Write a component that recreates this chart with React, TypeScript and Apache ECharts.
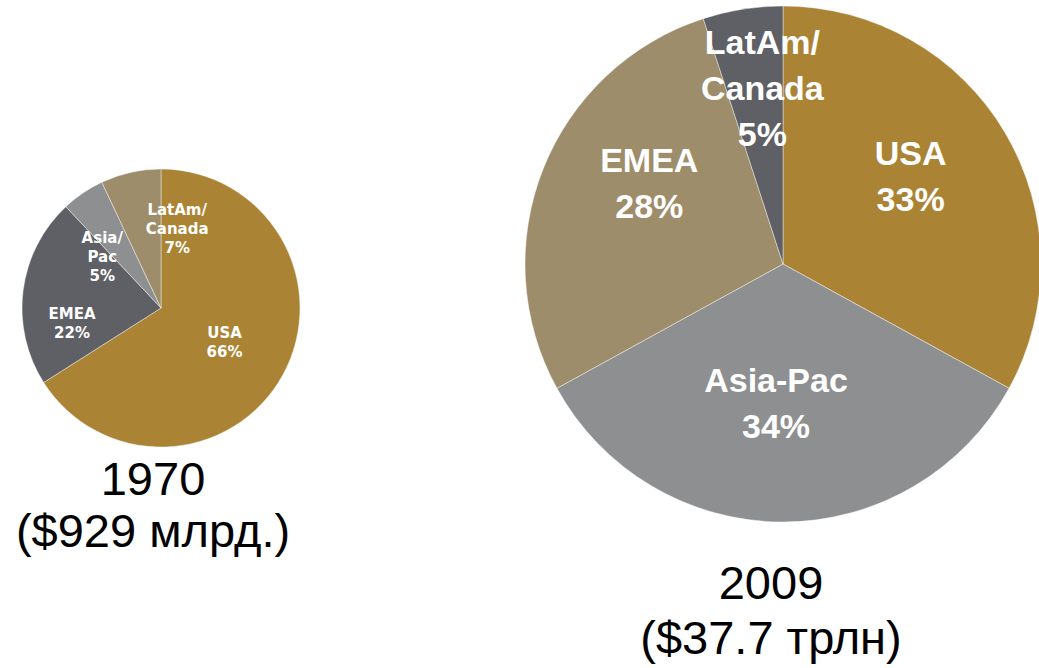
import React, { useEffect, useRef } from "react";
import * as echarts from "echarts";

// 1970 pie
const names1970 = ["USA", "EMEA", "Asia/\nPac", "LatAm/\nCanada"];
const values1970 = [66, 22, 5, 7];
const colors1970 = ["#AA8434", "#5F6065", "#8E8F91", "#9E8D6A"];
const title1970 = "1970\n($929 млрд.)";

// 2009 pie
const names2009 = ["USA", "Asia-Pac", "EMEA", "LatAm/\nCanada"];
const values2009 = [33, 34, 28, 5];
const colors2009 = ["#AA8434", "#8E8F91", "#9E8D6A", "#5F6065"];
const title2009 = "2009\n($37.7 трлн)";

// label nudges (layout only)
const nudge1970: [number, number][] = [[0, 0], [-17, 25], [-18, 9], [32, -8]];
const nudge2009: [number, number][] = [[14, -21], [-7, 7], [-11, -32], [0, -46]];

export default function App() {
  const ref = useRef<HTMLDivElement>(null);
  useEffect(() => {
    document.body.style.margin = "0";
    const chart = echarts.init(ref.current!, undefined, { renderer: "svg" });
    const mk = (names: string[], values: number[], colors: string[]) =>
      names.map((n, i) => ({ name: n, value: values[i], itemStyle: { color: colors[i] } }));
    chart.setOption({
      animation: false,
      backgroundColor: "#ffffff",
      title: [
        {
          text: title1970,
          left: 148,
          top: 447,
          textAlign: "center",
          textStyle: { fontFamily: "Liberation Sans", fontWeight: "normal", fontSize: 47, lineHeight: 52, color: "#000" },
        },
        {
          text: title2009,
          left: 766,
          top: 550,
          textAlign: "center",
          textStyle: { fontFamily: "Liberation Sans", fontWeight: "normal", fontSize: 47, lineHeight: 55, color: "#000" },
        },
      ],
      series: [
        {
          type: "pie",
          center: [161, 308],
          radius: 139,
          startAngle: 90,
          clockwise: true,
          silent: true,
          avoidLabelOverlap: false,
          itemStyle: { borderColor: "rgba(255,255,255,0.6)", borderWidth: 0.7 },
          label: {
            show: true,
            position: "inside",
            formatter: (p: any) => `${p.name}\n${p.value}%`,
            color: "#fff",
            fontFamily: "DejaVu Sans",
            fontWeight: "bold",
            fontSize: 15,
            lineHeight: 19,
            align: "center",
          },
          labelLine: { show: false },
          labelLayout: (p: any) => ({ dx: nudge1970[p.dataIndex][0], dy: nudge1970[p.dataIndex][1] }),
          data: mk(names1970, values1970, colors1970),
        },
        {
          type: "pie",
          center: [783, 264],
          radius: 258,
          startAngle: 90,
          clockwise: true,
          silent: true,
          avoidLabelOverlap: false,
          itemStyle: { borderColor: "rgba(255,255,255,0.6)", borderWidth: 0.7 },
          label: {
            show: true,
            position: "inside",
            formatter: (p: any) => `${p.name}\n${p.value}%`,
            color: "#fff",
            fontFamily: "Liberation Sans",
            fontWeight: "bold",
            fontSize: 34,
            lineHeight: 46,
            align: "center",
          },
          labelLine: { show: false },
          labelLayout: (p: any) => ({ dx: nudge2009[p.dataIndex][0], dy: nudge2009[p.dataIndex][1] }),
          data: mk(names2009, values2009, colors2009),
        },
      ],
    });
    return () => chart.dispose();
  }, []);
  return <div ref={ref} style={{ width: 1039, height: 668, position: "absolute", left: 0, top: 0 }} />;
}
